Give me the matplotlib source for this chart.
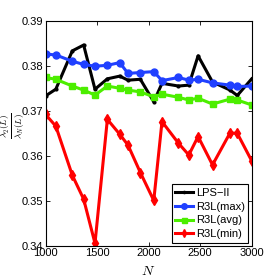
import matplotlib
matplotlib.use("Agg")
import matplotlib.pyplot as plt

N = [1000, 1100, 1260, 1370, 1480, 1600, 1720, 1800, 1920,
     2050, 2130, 2290, 2390, 2480, 2620, 2790, 2860, 3000]

lps_ii = [0.3733, 0.3748, 0.3833, 0.3846, 0.3748, 0.3771, 0.3777, 0.3768, 0.3770,
          0.3720, 0.3761, 0.3755, 0.3757, 0.3822, 0.3764, 0.3746, 0.3734, 0.3771]
r3l_max = [0.3826, 0.3824, 0.3810, 0.3803, 0.3799, 0.3801, 0.3807, 0.3783, 0.3785,
           0.3787, 0.3767, 0.3774, 0.3768, 0.3770, 0.3762, 0.3757, 0.3754, 0.3755]
r3l_avg = [0.3774, 0.3770, 0.3755, 0.3746, 0.3735, 0.3755, 0.3750, 0.3746, 0.3742,
           0.3731, 0.3737, 0.3730, 0.3724, 0.3728, 0.3715, 0.3726, 0.3724, 0.3713]
r3l_min = [0.3692, 0.3666, 0.3557, 0.3504, 0.3406, 0.3681, 0.3648, 0.3624, 0.3563,
           0.3501, 0.3676, 0.3628, 0.3602, 0.3643, 0.3580, 0.3651, 0.3650, 0.3589]

labels = ["LPS\u2212II", "R3L(max)", "R3L(avg)", "R3L(min)"]
xticks = [1000, 1500, 2000, 2500, 3000]
yticks = [0.34, 0.35, 0.36, 0.37, 0.38, 0.39]

plt.rcParams['font.family'] = ['Liberation Sans', 'DejaVu Sans']
plt.rcParams['mathtext.fontset'] = 'cm'

fig = plt.figure(figsize=(2.77, 2.77), dpi=100)
ax = fig.add_axes([45.5/277, 1 - 246/277, (251.7-45.5)/277, (246-20.7)/277])

ax.plot(N, lps_ii, color='black', lw=2.2, marker='.', ms=4, label=labels[0])
ax.plot(N, r3l_max, color='#2040ff', lw=2.2, marker='o', ms=5, label=labels[1])
ax.plot(N, r3l_avg, color='#4cee00', lw=2.2, marker='s', ms=4.5, label=labels[2])
ax.plot(N, r3l_min, color='#ff0000', lw=2.2, marker='d', ms=5, label=labels[3])

ax.set_xlim(1000, 3000)
ax.set_ylim(0.34, 0.39)
ax.set_xticks(xticks)
ax.set_yticks(yticks)
ax.set_yticklabels([f"{v:.2f}" for v in yticks])
ax.tick_params(direction='in', top=True, right=True, labelsize=8, length=3, pad=1.5, width=0.6)
for s in ax.spines.values():
    s.set_linewidth(0.8)

ax.set_xlabel(r"$N$", fontsize=10)
ax.xaxis.set_label_coords(0.5, -0.082)
fig.text(12.5/277, 1 - 126/277, r"$\frac{\lambda_2(L)}{\lambda_N(L)}$", fontsize=9.5,
         rotation=90, ha='center', va='center')

leg = ax.legend(loc='lower right', fontsize=8, handlelength=1.6, handletextpad=0.3,
                borderpad=0.3, labelspacing=0.35, fancybox=False, framealpha=1,
                edgecolor='black', borderaxespad=0.3, markerscale=0.8)
leg.get_frame().set_linewidth(0.8)

fig.savefig("out.png", dpi=100)
